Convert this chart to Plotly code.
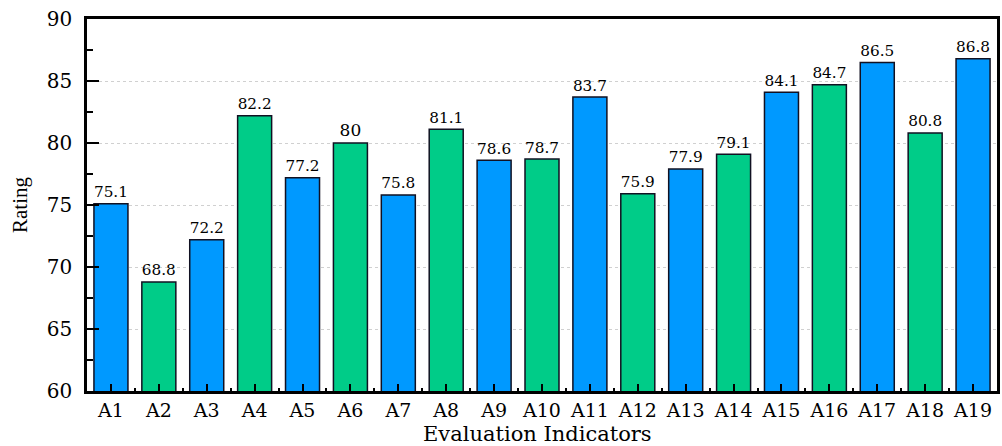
import plotly.graph_objects as go

categories = ["A1", "A2", "A3", "A4", "A5", "A6", "A7", "A8", "A9", "A10",
              "A11", "A12", "A13", "A14", "A15", "A16", "A17", "A18", "A19"]
ratings = [75.1, 68.8, 72.2, 82.2, 77.2, 80, 75.8, 81.1, 78.6, 78.7,
           83.7, 75.9, 77.9, 79.1, 84.1, 84.7, 86.5, 80.8, 86.8]
bar_colors = ["#0099FF" if i % 2 == 0 else "#00CC88" for i in range(len(categories))]
labels = [f"{v:g}" for v in ratings]
ytick_vals = [60, 65, 70, 75, 80, 85, 90]

FONT = "DejaVu Serif, serif"
FONT2 = "Liberation Serif, Times New Roman, serif"
xpos = list(range(len(categories)))

fig = go.Figure(go.Bar(
    x=xpos, y=ratings, width=0.71,
    marker=dict(color=bar_colors, line=dict(color="#111122", width=1.5)),
    text=labels, textposition="outside",
    textfont=dict(family=FONT, size=17, color="black"),
    cliponaxis=False,
))

fig.update_layout(
    width=1002, height=446,
    margin=dict(l=87, r=5, t=19, b=55),
    paper_bgcolor="white", plot_bgcolor="white",
    showlegend=False,
    font=dict(family=FONT, color="black"),
    annotations=[
        dict(text="Evaluation Indicators", xref="paper", yref="paper",
             x=0.495, y=0.0, yshift=-43, xanchor="center", yanchor="middle",
             showarrow=False, font=dict(family=FONT, size=21)),
        dict(text="Rating", xref="paper", yref="paper",
             x=0, xshift=-67, y=0.5, xanchor="center", yanchor="middle",
             textangle=-90, showarrow=False, font=dict(family=FONT2, size=21)),
    ],
)
fig.update_xaxes(
    range=[-0.5, len(categories) - 0.5], automargin=False,
    tickmode="array", tickvals=xpos, ticktext=categories,
    ticks="inside", ticklen=7, tickwidth=2, tickcolor="black",
    tickfont=dict(family=FONT, size=19), ticklabelstandoff=0,
    showline=True, linewidth=2.5, linecolor="black", mirror=True,
    showgrid=False, zeroline=False,
    minor=dict(ticks="inside", ticklen=3, tickwidth=2, tickcolor="black",
               tick0=-0.5, dtick=1, showgrid=False),
)
fig.update_yaxes(
    range=[60, 90], automargin=False,
    tickmode="array", tickvals=ytick_vals,
    ticks="inside", ticklen=12, tickwidth=2, tickcolor="black",
    tickfont=dict(family=FONT, size=20), ticklabelstandoff=8,
    showline=True, linewidth=2.5, linecolor="black", mirror=True,
    showgrid=True, gridcolor="#d0d0d0", griddash="dot", gridwidth=1,
    zeroline=False,
    minor=dict(ticks="inside", ticklen=6, tickwidth=2, tickcolor="black",
               tick0=62.5, dtick=5, showgrid=False),
)

fig.write_html("out.html", config={"displayModeBar": False},
               post_script="document.body.style.margin='0';document.body.style.overflow='hidden';")
